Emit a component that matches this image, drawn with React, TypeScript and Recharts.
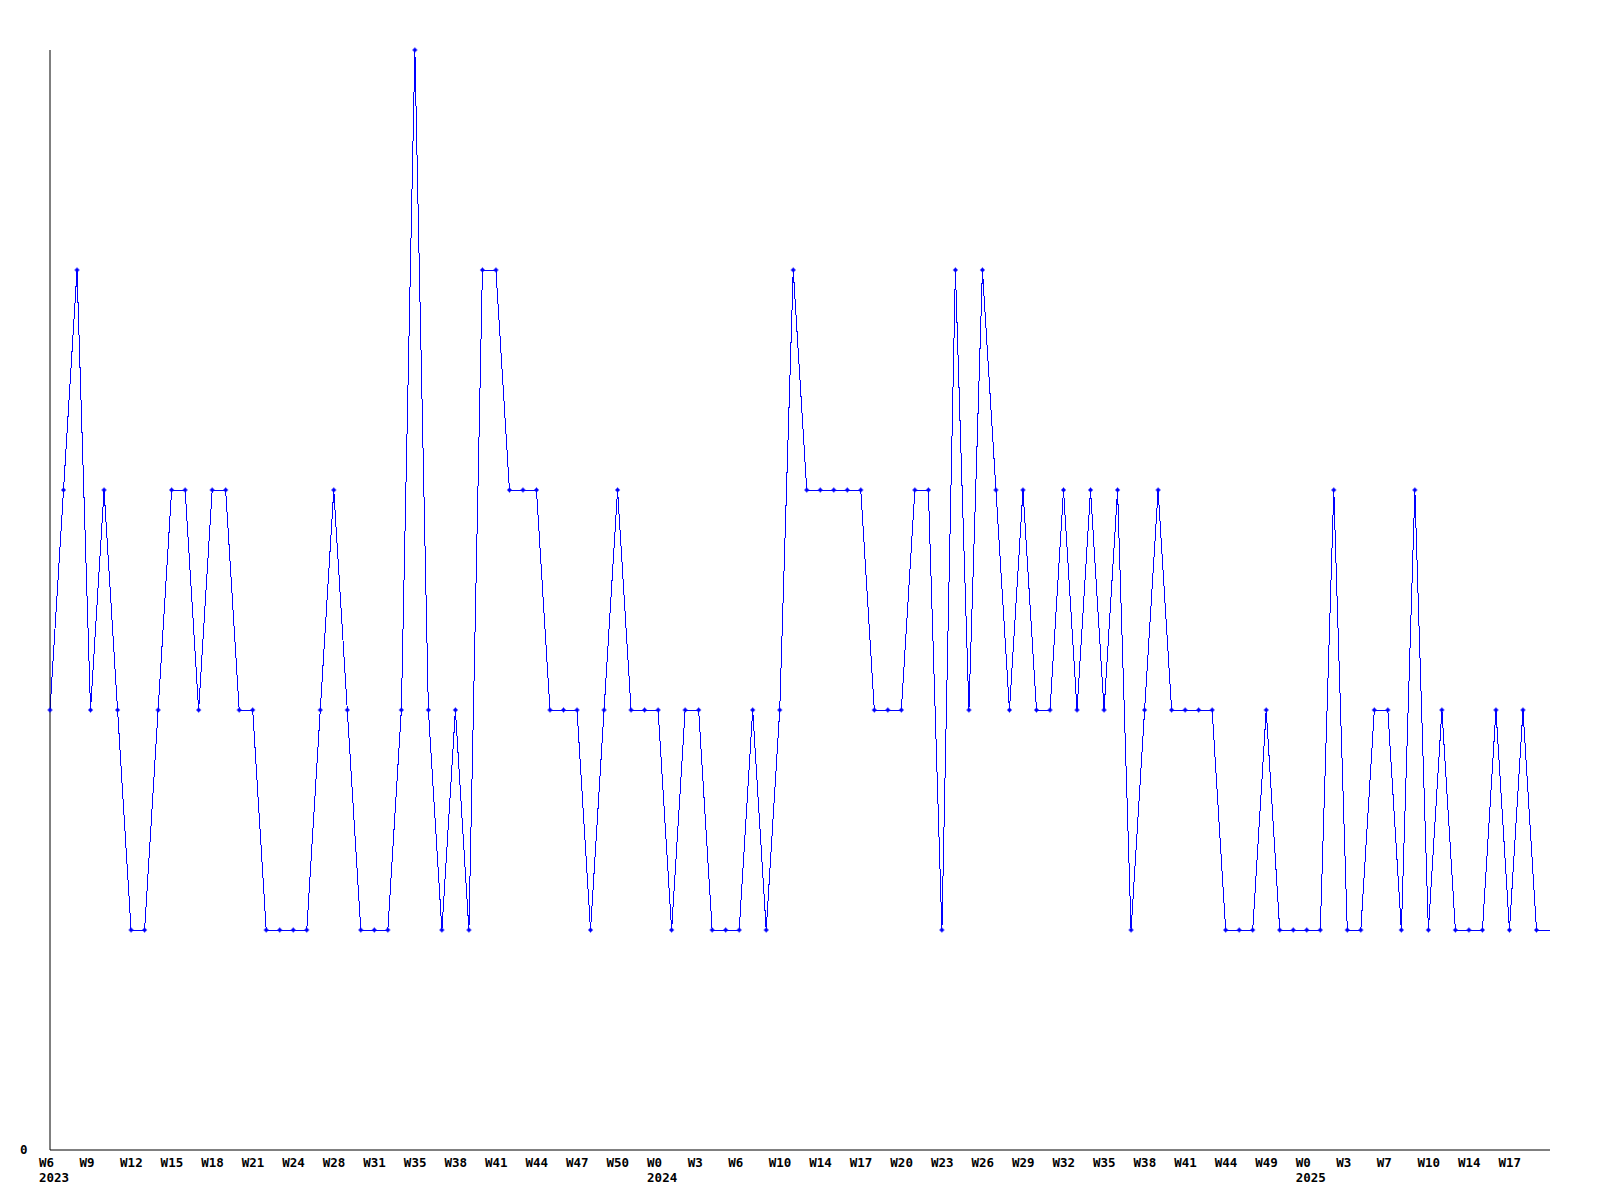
import React from 'react';
import { LineChart, Line, XAxis, YAxis } from 'recharts';

// one value per week
const weekValues = [
  2, 3, 4, 2, 3, 2, 1, 1, 2, 3,
  3, 2, 3, 3, 2, 2, 1, 1, 1, 1,
  2, 3, 2, 1, 1, 1, 2, 5, 2, 1,
  2, 1, 4, 4, 3, 3, 3, 2, 2, 2,
  1, 2, 3, 2, 2, 2, 1, 2, 2, 1,
  1, 1, 2, 1, 2, 4, 3, 3, 3, 3,
  3, 2, 2, 2, 3, 3, 1, 4, 2, 4,
  3, 2, 3, 2, 2, 3, 2, 3, 2, 3,
  1, 2, 3, 2, 2, 2, 2, 1, 1, 1,
  2, 1, 1, 1, 1, 3, 1, 1, 2, 2,
  1, 3, 1, 2, 1, 1, 1, 2, 1, 2,
  1, 1,
];

// a label on every third point
const weekLabels = [
  'W6', 'W9', 'W12', 'W15', 'W18', 'W21', 'W24', 'W28', 'W31', 'W35',
  'W38', 'W41', 'W44', 'W47', 'W50', 'W0', 'W3', 'W6', 'W10', 'W14',
  'W17', 'W20', 'W23', 'W26', 'W29', 'W32', 'W35', 'W38', 'W41', 'W44',
  'W49', 'W0', 'W3', 'W7', 'W10', 'W14', 'W17',
];
const labelStep = 3;

// label position -> year shown beneath it
const yearMarks: [number, string][] = [
  [0, '2023'],
  [15, '2024'],
  [31, '2025'],
];

const data = weekValues.map((v, i) => ({ i, v }));
const xTicks = weekLabels.map((_, k) => k * labelStep);
const lastIndex = weekValues.length - 1;

const FONT = '"DejaVu Sans Mono", monospace';
const BLUE = '#0000ff';

const WeekTick = (props: any) => {
  const { x, y, payload } = props;
  const k = Math.round(payload.value / labelStep);
  const year = yearMarks.find(m => m[0] === k);
  return (
    <g>
      <text x={x - 11} y={y + 17} textAnchor="start" fontFamily={FONT} fontWeight="bold" fontSize={12.5} fill="#000">
        {weekLabels[k]}
      </text>
      {year && (
        <text x={x - 11} y={y + 32} textAnchor="start" fontFamily={FONT} fontWeight="bold" fontSize={12.5} fill="#000">
          {year[1]}
        </text>
      )}
    </g>
  );
};

const ZeroTick = (props: any) => {
  const { x, y, payload } = props;
  return (
    <text x={x - 30} y={y + 4} textAnchor="start" fontFamily={FONT} fontWeight="bold" fontSize={12.5} fill="#000">
      {payload.value}
    </text>
  );
};

const Marker = (props: any) => {
  const { cx, cy, index } = props;
  if (index === lastIndex || cx == null) return <g key={index} />;
  return (
    <g key={index} fill={BLUE}>
      <rect x={cx - 2.5} y={cy - 0.5} width={5} height={1} />
      <rect x={cx - 0.5} y={cy - 2.5} width={1} height={5} />
      <rect x={cx - 1.5} y={cy - 1.5} width={3} height={3} />
    </g>
  );
};

export default function App() {
  return (
    <div style={{ position: 'absolute', left: 0, top: 0, width: 1600, height: 1200, background: '#fff' }}>
      <style>{`.recharts-line-curve { shape-rendering: crispEdges; }`}</style>
      <LineChart width={1600} height={1200} data={data} margin={{ top: 50, right: 50, bottom: 0, left: 0 }}>
        <XAxis
          type="number"
          dataKey="i"
          domain={[0, lastIndex]}
          ticks={xTicks}
          interval={0}
          height={50}
          tickLine={false}
          tickSize={0}
          tickMargin={0}
          axisLine={{ stroke: '#000' }}
          tick={<WeekTick />}
        />
        <YAxis
          type="number"
          domain={[0, 5]}
          ticks={[0]}
          width={50}
          tickLine={false}
          tickSize={0}
          tickMargin={0}
          axisLine={{ stroke: '#000' }}
          tick={<ZeroTick />}
        />
        <Line
          type="linear"
          dataKey="v"
          stroke={BLUE}
          strokeWidth={1}
          dot={<Marker />}
          activeDot={false}
          isAnimationActive={false}
        />
      </LineChart>
    </div>
  );
}
